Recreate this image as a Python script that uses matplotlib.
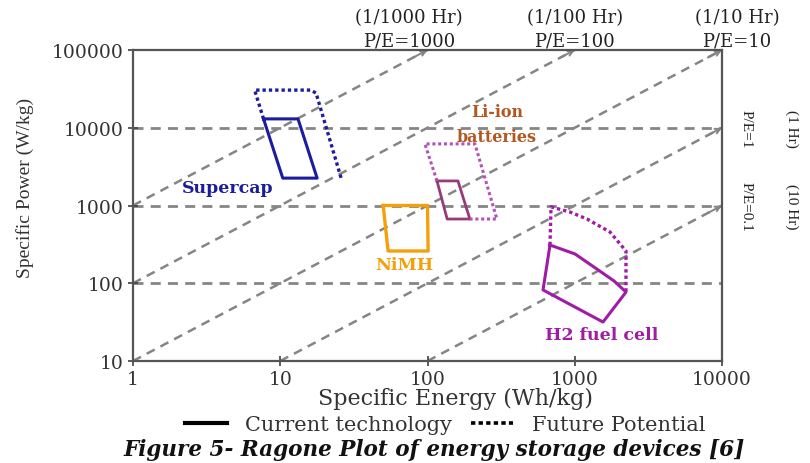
import numpy as np
import matplotlib
matplotlib.use("Agg")
import matplotlib.pyplot as plt
from matplotlib.lines import Line2D

# ---------------- data ----------------
x_ticks = [1, 10, 100, 1000, 10000]
x_tick_labels = ["1", "10", "100", "1000", "10000"]
y_ticks = [10, 100, 1000, 10000, 100000]
y_tick_labels = ["10", "100", "1000", "10000", "100000"]

pe_ratios = [1000, 100, 10, 1, 0.1]          # diagonal P/E lines
h_levels = [100, 1000, 10000]                 # horizontal dashed lines

top_labels_E = [75, 1000, 12650]
top_labels_hr = ["(1/1000 Hr)", "(1/100 Hr)", "(1/10 Hr)"]
top_labels_pe = ["P/E=1000", "P/E=100", "P/E=10"]
right_labels_P = [10000, 1000]
right_labels_pe = ["P/E=1", "P/E=0.1"]
right_labels_hr = ["(1 Hr)", "(10 Hr)"]

# Supercapacitor
supercap_cur_E = [7.7, 13.2, 17.8, 10.4, 7.7]
supercap_cur_P = [13000, 13000, 2250, 2250, 13000]
supercap_fut_E = [7.7, 6.7, 16.0, 17.5, 26.0]
supercap_fut_P = [13000, 30500, 30500, 28000, 2200]

# Li-ion batteries
liion_cur_E = [116, 161, 194, 136, 116]
liion_cur_P = [2070, 2070, 670, 670, 2070]
liion_fut_E = [116, 96, 210, 296, 194]
liion_fut_P = [2070, 6200, 6200, 670, 670]

# NiMH
nimh_E = [50, 100, 101, 54, 50]
nimh_P = [1000, 1000, 260, 260, 1000]

# H2 fuel cell
h2_cur_E = [679, 1004, 1416, 1848, 2228, 1556, 609, 679]
h2_cur_P = [310, 238, 152, 107, 77, 31.7, 82, 310]
h2_fut_E = [679, 690, 929, 1211, 1735, 2228, 2228]
h2_fut_P = [310, 960, 824, 670, 456, 260, 77]

# ---------------- figure ----------------
W, H = 810, 464
fig = plt.figure(figsize=(W / 100, H / 100), dpi=100)
ax = fig.add_axes([133 / W, 1 - 362 / H, 589 / W, 311 / H])
ax.set_xscale("log")
ax.set_yscale("log")
ax.set_xlim(1, 10000)
ax.set_ylim(10, 100000)

grey = "#858585"
dash = (0, (3.6, 2.6))

for r in pe_ratios:
    e0 = max(1.0, 10.0 / r)
    e1 = min(10000.0, 100000.0 / r)
    ax.plot([e0, e1], [r * e0, r * e1], color=grey, lw=1.8, linestyle=dash, zorder=1)
    ax.annotate("", xy=(e1, r * e1), xytext=(e1 / 1.25, r * e1 / 1.25),
                arrowprops=dict(arrowstyle="->", color=grey, lw=1.4,
                                mutation_scale=9, shrinkA=0, shrinkB=0),
                annotation_clip=False, zorder=1)

for lvl in h_levels:
    ax.axhline(lvl, color=grey, lw=2.0, linestyle=dash, zorder=1)

dot = (0, (1.0, 0.9))
blue = "#1c1c9e"
plum = "#973a7c"
orchid = "#b452b4"
orange = "#f5a00a"
mag = "#a11ca6"

ax.plot(supercap_cur_E, supercap_cur_P, color=blue, lw=2.2, zorder=3)
ax.plot(supercap_fut_E, supercap_fut_P, color=blue, lw=2.4, linestyle=dot, zorder=3)
ax.plot(liion_cur_E, liion_cur_P, color=plum, lw=2.0, zorder=3)
ax.plot(liion_fut_E, liion_fut_P, color=orchid, lw=2.2, linestyle=dot, zorder=3)
ax.plot(nimh_E, nimh_P, color=orange, lw=2.4, zorder=3)
ax.plot(h2_cur_E, h2_cur_P, color=mag, lw=2.2, zorder=3)
ax.plot(h2_fut_E, h2_fut_P, color=mag, lw=2.4, linestyle=dot, zorder=3)

lab = dict(family="DejaVu Serif", weight="bold", ha="center", va="center", size=12.5)
ax.text(4.4, 1680, "Supercap", color=blue, **lab)
ax.text(70, 172, "NiMH", color=orange, **lab)
ax.text(296, 16000, "Li-ion", color="#b4561e", family="DejaVu Serif",
        weight="bold", ha="center", va="center", size=11.5)
ax.text(296, 7800, "batteries", color="#b4561e", family="DejaVu Serif",
        weight="bold", ha="center", va="center", size=11.5)
ax.text(1530, 22.2, "H2 fuel cell", color=mag, **lab)

# axes styling
ax.set_xticks(x_ticks)
ax.set_xticklabels(x_tick_labels)
ax.set_yticks(y_ticks)
ax.set_yticklabels(y_tick_labels)
ax.minorticks_off()
ax.tick_params(direction="inout", length=7, width=1.2, color="#404040",
               labelsize=13.5, pad=3)
for t in ax.get_xticklabels() + ax.get_yticklabels():
    t.set_family("DejaVu Serif")
    t.set_color("#333333")
for s in ax.spines.values():
    s.set_color("#555555")
    s.set_linewidth(1.6)

ax.set_xlabel("Specific Energy (Wh/kg)", family="DejaVu Serif", size=16, color="#333333")
ax.xaxis.label.set_va("center")
ax.xaxis.set_label_coords((455 - 133) / 589, (362 - 399) / 311)
ax.set_ylabel("Specific Power (W/kg)", family="Liberation Serif", size=14, color="#333333")
ax.yaxis.label.set_va("center")
ax.yaxis.set_label_coords((25 - 133) / 589, (362 - 188) / 311)

xt = ax.get_xaxis_transform()
for e, hr, pe in zip(top_labels_E, top_labels_hr, top_labels_pe):
    ax.text(e, (362 - 18) / 311, hr, transform=xt, ha="center", va="center",
            family="DejaVu Serif", size=13, color="#222222")
    ax.text(e, (362 - 42) / 311, pe, transform=xt, ha="center", va="center",
            family="DejaVu Serif", size=13, color="#222222")

yt = ax.get_yaxis_transform()
for p, pe, hr in zip(right_labels_P, right_labels_pe, right_labels_hr):
    ax.text((746 - 133) / 589, p, pe, transform=yt, rotation=270, ha="center",
            va="center", family="Liberation Serif", size=11, color="#222222")
    ax.text((792 - 133) / 589, p, hr, transform=yt, rotation=270, ha="center",
            va="center", family="Liberation Serif", size=11, color="#222222")

handles = [Line2D([], [], color="black", lw=3.0),
           Line2D([], [], color="black", lw=2.6, linestyle=(0, (1.2, 0.9)))]
fig.legend(handles, ["Current technology", "Future Potential"], loc="center",
           bbox_to_anchor=(445 / W, 1 - 426 / H), ncol=2, frameon=False,
           prop=dict(family="DejaVu Serif", size=15), handlelength=2.0,
           columnspacing=0.9, handletextpad=0.9, labelcolor="#333333")

fig.text(434 / W, 1 - 450 / H, "Figure 5- Ragone Plot of energy storage devices [6]",
         ha="center", va="center", family="DejaVu Serif", style="italic",
         weight="bold", size=15.5, color="#111111")

fig.savefig("out.png", dpi=100)
